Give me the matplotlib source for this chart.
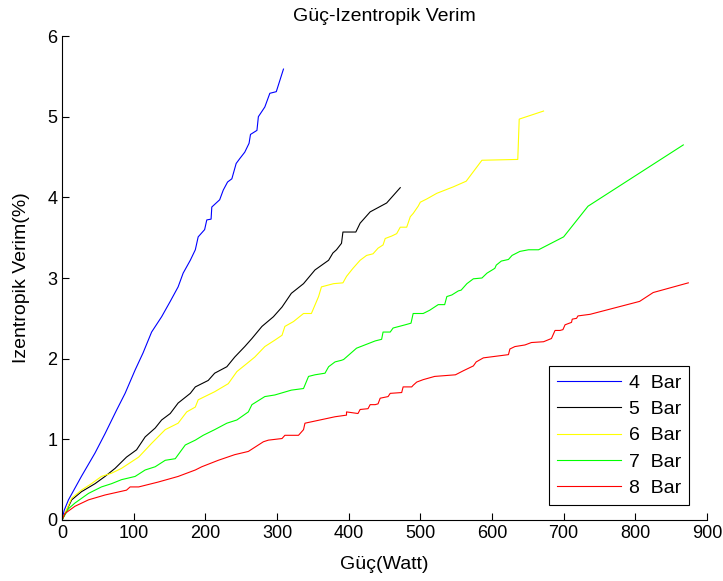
import matplotlib
matplotlib.use("Agg")
import matplotlib.pyplot as plt

# values (power in W, efficiency in %)
bar4_x = [0, 3, 9, 27, 46, 60, 76, 88, 102, 113, 125, 139, 151, 162, 169, 179, 186, 190,
          199, 202, 208, 209, 220, 225, 231, 237, 243, 248, 255, 261, 263, 272, 274, 283,
          290, 299, 309]
bar4_y = [0, 0.12, 0.25, 0.54, 0.83, 1.07, 1.36, 1.57, 1.86, 2.07, 2.33, 2.52, 2.71, 2.89,
          3.06, 3.22, 3.35, 3.51, 3.60, 3.72, 3.73, 3.88, 3.97, 4.09, 4.19, 4.23, 4.42,
          4.48, 4.56, 4.67, 4.78, 4.83, 5.00, 5.12, 5.29, 5.31, 5.59]

bar5_x = [0, 13.5, 27, 46, 60, 74, 90, 104, 116, 130, 139, 151, 162, 179, 186, 204, 213,
          230, 241, 255, 265, 279, 295, 307, 320, 337, 353, 372, 378, 383, 390, 392, 410,
          416, 430, 453, 472]
bar5_y = [0, 0.25, 0.35, 0.45, 0.54, 0.64, 0.78, 0.87, 1.03, 1.14, 1.24, 1.32, 1.45, 1.57,
          1.65, 1.73, 1.82, 1.90, 2.02, 2.15, 2.25, 2.40, 2.52, 2.64, 2.81, 2.93, 3.10,
          3.22, 3.31, 3.35, 3.43, 3.57, 3.57, 3.68, 3.82, 3.93, 4.12]

bar6_x = [0, 13.5, 27, 41, 55, 69, 83, 107, 125, 144, 162, 174, 186, 190, 213, 232, 244,
          258, 269, 283, 297, 307, 311, 323, 337, 348, 358, 362, 379, 392, 397, 406, 416,
          425, 434, 441, 448, 451, 460, 467, 472, 481, 486, 490, 497, 500, 509, 523, 546,
          564, 586, 636, 638, 672]
bar6_y = [0, 0.27, 0.37, 0.45, 0.54, 0.58, 0.64, 0.78, 0.95, 1.12, 1.20, 1.34, 1.40, 1.49,
          1.59, 1.69, 1.84, 1.94, 2.02, 2.15, 2.23, 2.29, 2.40, 2.46, 2.56, 2.56, 2.77,
          2.89, 2.93, 2.94, 3.02, 3.12, 3.22, 3.28, 3.30, 3.37, 3.41, 3.49, 3.52, 3.55,
          3.63, 3.63, 3.76, 3.80, 3.89, 3.94, 3.98, 4.05, 4.13, 4.20, 4.46, 4.47, 4.97,
          5.07]

bar7_x = [0, 9, 18, 37, 55, 69, 83, 102, 116, 130, 144, 158, 172, 186, 197, 213, 230, 244,
          260, 265, 283, 297, 320, 337, 344, 353, 367, 372, 381, 390, 393, 411, 437, 446,
          448, 458, 462, 479, 487, 490, 504, 513, 525, 534, 537, 544, 553, 557, 565, 574,
          586, 593, 604, 606, 613, 623, 628, 639, 651, 665, 700, 734, 867]
bar7_y = [0, 0.14, 0.21, 0.33, 0.41, 0.45, 0.50, 0.54, 0.62, 0.66, 0.74, 0.76, 0.93, 0.99,
          1.05, 1.12, 1.20, 1.24, 1.34, 1.43, 1.53, 1.55, 1.61, 1.63, 1.78, 1.80, 1.82,
          1.90, 1.96, 1.98, 1.99, 2.13, 2.22, 2.24, 2.33, 2.33, 2.38, 2.42, 2.44, 2.56,
          2.56, 2.60, 2.67, 2.67, 2.77, 2.79, 2.84, 2.85, 2.93, 2.99, 3.00, 3.06, 3.12,
          3.16, 3.21, 3.23, 3.28, 3.33, 3.35, 3.35, 3.51, 3.89, 4.65]

bar8_x = [0, 4, 18, 37, 60, 90, 95, 107, 134, 162, 186, 195, 218, 241, 260, 281, 288, 307,
          311, 325, 330, 337, 339, 381, 397, 397, 413, 416, 427, 430, 437, 441, 444, 455,
          458, 474, 476, 488, 490, 495, 504, 520, 549, 560, 574, 578, 588, 623, 625, 632,
          646, 655, 672, 683, 688, 695, 699, 702, 711, 712, 718, 720, 737, 806, 825, 874]
bar8_y = [0, 0.08, 0.17, 0.25, 0.31, 0.37, 0.41, 0.41, 0.47, 0.54, 0.62, 0.66, 0.74, 0.81,
          0.85, 0.97, 0.99, 1.01, 1.05, 1.05, 1.05, 1.12, 1.20, 1.28, 1.30, 1.34, 1.32,
          1.37, 1.38, 1.43, 1.43, 1.44, 1.51, 1.53, 1.57, 1.58, 1.65, 1.65, 1.67, 1.71,
          1.74, 1.78, 1.80, 1.85, 1.91, 1.96, 2.01, 2.05, 2.12, 2.15, 2.17, 2.20, 2.21,
          2.25, 2.35, 2.35, 2.36, 2.42, 2.45, 2.49, 2.50, 2.53, 2.55, 2.71, 2.82, 2.94]

labels = ["4  Bar", "5  Bar", "6  Bar", "7  Bar", "8  Bar"]
colors = ["#0000ff", "#000000", "#ffff00", "#00ff00", "#ff0000"]
series = [(bar4_x, bar4_y), (bar5_x, bar5_y), (bar6_x, bar6_y), (bar7_x, bar7_y), (bar8_x, bar8_y)]

plt.rcParams["font.family"] = ["Liberation Sans", "DejaVu Sans"]

fig = plt.figure(figsize=(7.23, 5.81), dpi=100)
ax = fig.add_axes([0.0858, 0.105, 0.892, 0.833])

for (xs, ys), lab, col in zip(series, labels, colors):
    ax.plot(xs, ys, color=col, linewidth=0.8, label=lab)

ax.set_xlim(0, 900)
ax.set_ylim(0, 6)
ax.set_xticks(range(0, 901, 100))
ax.set_yticks(range(0, 7))
ax.spines["top"].set_visible(False)
ax.spines["right"].set_visible(False)
ax.tick_params(direction="in", length=5, labelsize=13, width=0.8)
ax.set_title("Güç-Izentropik Verim", fontsize=14, pad=11)
ax.set_xlabel("Güç(Watt)", fontsize=14, labelpad=10)
ax.set_ylabel("Izentropik Verim(%)", fontsize=14, labelpad=12)

leg = ax.legend(loc="lower right", bbox_to_anchor=(0.972, 0.031), borderaxespad=0,
                fontsize=14, fancybox=False, edgecolor="black", framealpha=1,
                handlelength=3.3, handletextpad=0.4, labelspacing=0.45)
leg.get_frame().set_linewidth(0.8)

fig.savefig("out.png", dpi=100)
